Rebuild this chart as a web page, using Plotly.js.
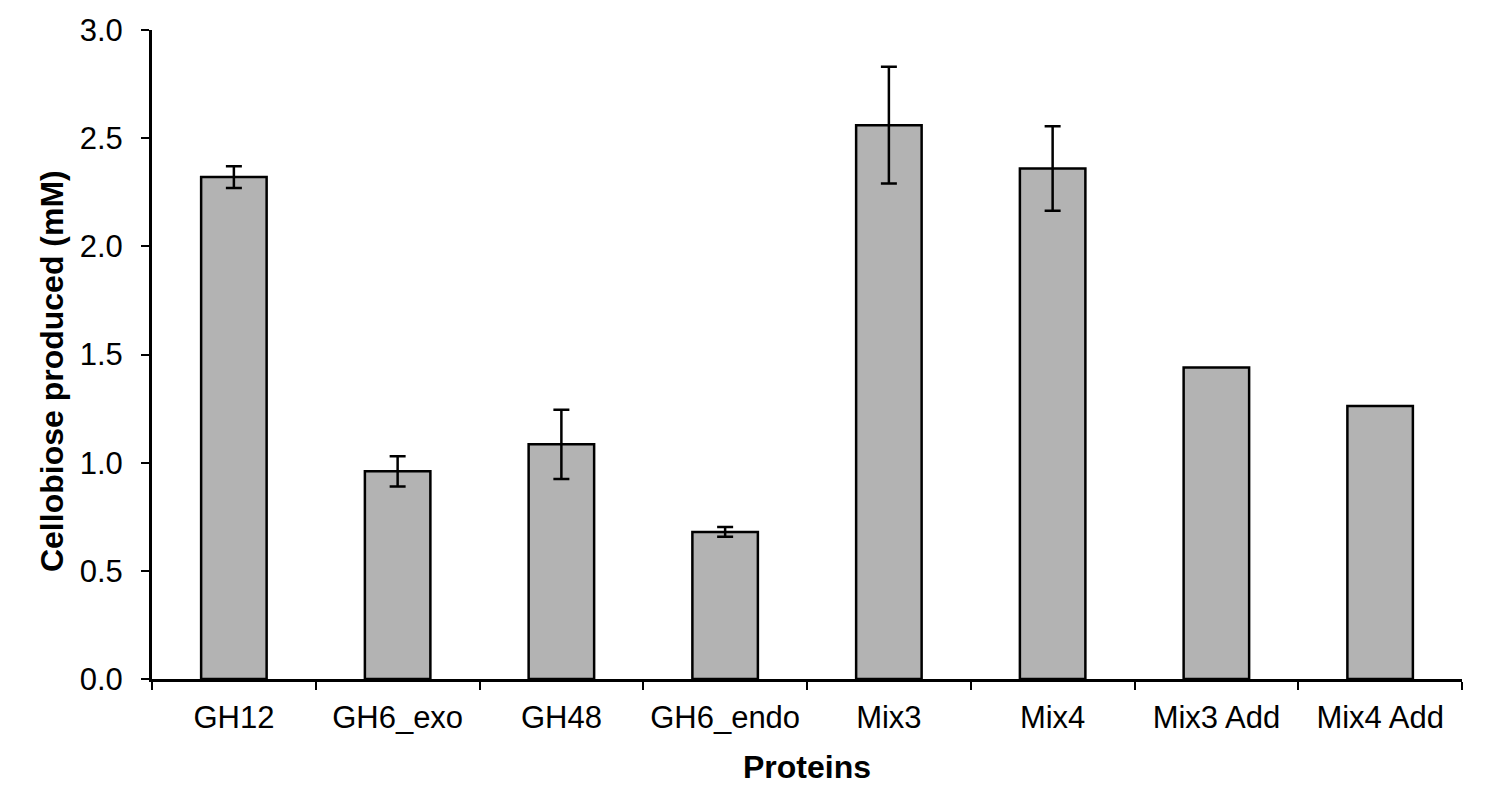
<!DOCTYPE html>
<html>
<head>
<meta charset="utf-8">
<script src="https://cdn.plot.ly/plotly-3.0.1.min.js"></script>
<style>
  html, body { margin: 0; padding: 0; background: #fff; }
  #chart { width: 1507px; height: 795px; }
</style>
</head>
<body>
<div id="chart"></div>
<script>
// proteins on the x axis
const proteins = ['GH12', 'GH6_exo', 'GH48', 'GH6_endo', 'Mix3', 'Mix4', 'Mix3 Add', 'Mix4 Add'];
// cellobiose produced (mM)
const cellobiose = [2.32, 0.96, 1.085, 0.68, 2.56, 2.36, 1.44, 1.262];
// error bars (mM), only the first six have one
const errors = [0.05, 0.07, 0.16, 0.023, 0.27, 0.195];

const font = 'Arial, "Liberation Sans", sans-serif';

const data = [{
    type: 'bar',
    x: proteins,
    y: cellobiose,
    marker: {
        color: '#b3b3b3',
        line: { color: '#000', width: 2.5 },
    },
    error_y: {
        type: 'data',
        array: errors,
        visible: true,
        color: '#000',
        thickness: 2.5,
        width: 8,
    },
}];

const layout = {
    width: 1507,
    height: 795,
    margin: { l: 152, r: 45, t: 30, b: 116, pad: 0 },
    paper_bgcolor: '#fff',
    plot_bgcolor: '#fff',
    showlegend: false,
    bargap: 0.6,
    font: { family: font, size: 31, color: '#000' },
    xaxis: {
        title: {
            text: '<b>Proteins</b>',
            font: { family: font, size: 32, color: '#000' },
            standoff: 22,
        },
        showline: true,
        linecolor: '#000',
        linewidth: 3,
        ticks: 'outside',
        tickson: 'boundaries',
        ticklen: 8,
        tickwidth: 2,
        tickcolor: '#000',
        tickfont: { family: font, size: 31, color: '#000' },
        ticklabelstandoff: 9,
        showgrid: false,
        zeroline: false,
    },
    yaxis: {
        range: [0, 3],
        dtick: 0.5,
        tickformat: '.1f',
        showline: true,
        linecolor: '#000',
        linewidth: 3,
        ticks: 'outside',
        ticklen: 8,
        tickwidth: 2,
        tickcolor: '#000',
        tickfont: { family: font, size: 31, color: '#000' },
        ticklabelstandoff: 12,
        showgrid: false,
        zeroline: false,
    },
    // y title as an annotation so it can sit a little below centre, like the original
    annotations: [{
        text: '<b>Cellobiose produced (mM)</b>',
        font: { family: font, size: 32, color: '#000' },
        textangle: -90,
        xref: 'paper',
        yref: 'paper',
        x: -0.0763,
        y: 0.4746,
        xanchor: 'center',
        yanchor: 'middle',
        showarrow: false,
    }],
};

const config = { staticPlot: true, displayModeBar: false };

Plotly.newPlot('chart', data, layout, config);
</script>
</body>
</html>
